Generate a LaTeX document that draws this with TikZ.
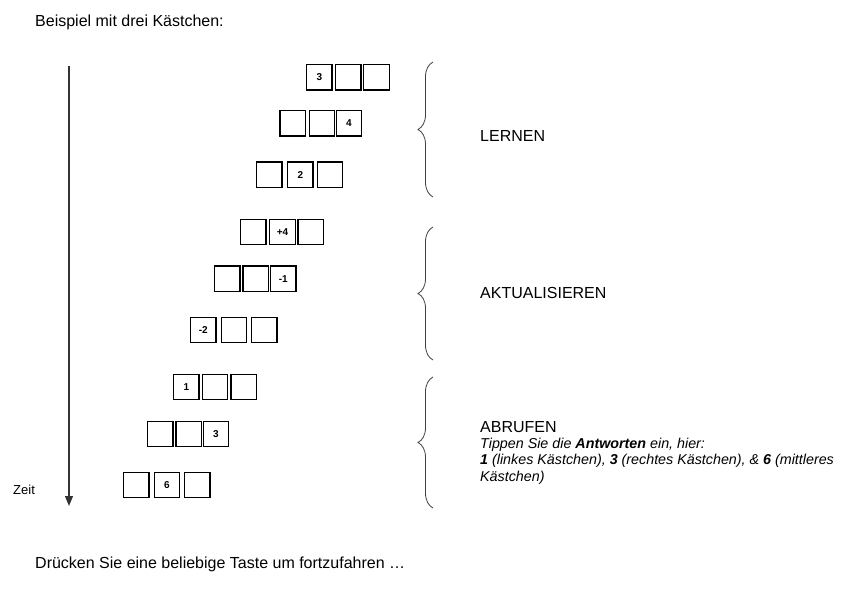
\documentclass[tikz,border=0pt]{standalone}
\usepackage{fontspec}
\setmainfont{Liberation Sans}
\usepackage{tikz}
\usetikzlibrary{decorations.pathreplacing}
\usetikzlibrary{arrows.meta,arrows}
\usetikzlibrary{fit,positioning}
\tikzset{>=latex}
\tikzset{kasten/.style={draw,line width=1.2pt,minimum size=25.5pt,inner sep=0pt,font=\fontsize{10}{12}\selectfont\bfseries}}
\tikzset{klammer/.style={decorate,decoration={brace,amplitude=15pt},line width=0.8pt,black!75}}
\newcommand{\phasefont}{\fontsize{16}{19}\selectfont}

\begin{document}
\begin{tikzpicture}[x=1pt,y=-1pt]

\fill[white] (0,0) rectangle (849,593);
\useasboundingbox (0,0) rectangle (849,593);

% Titel
\node[anchor=base west,inner sep=0pt,font=\phasefont] (titel) at (35,27) {Beispiel mit drei Kästchen:};

% Zeitachse
\coordinate (zeitoben) at (69,66);
\coordinate (zeitunten) at (69,506);
\draw[line width=1.2pt,black!80,-{Triangle[length=10pt,width=8pt]}] (zeitoben) -- (zeitunten);
\node[anchor=base west,inner sep=0pt,font=\fontsize{13}{15}\selectfont] (zeit) at (13,494) {Zeit};

% Lernen
\node[kasten] (r1a) at (319.3,77.3) {3};   \node[kasten] (r1b) at (348.3,77.3) {};  \node[kasten] (r1c) at (376.5,77.3) {};
\node[kasten] (r2a) at (292.7,123.3) {};   \node[kasten] (r2b) at (322,123.3) {};   \node[kasten] (r2c) at (349,123.3) {4};
\node[kasten] (r3a) at (269.3,174.7) {};   \node[kasten] (r3b) at (300.3,174.7) {2}; \node[kasten] (r3c) at (330,174.7) {};

% Aktualisieren
\node[kasten] (r4a) at (253.3,232) {};     \node[kasten] (r4b) at (282.5,232) {+4}; \node[kasten] (r4c) at (310.7,232) {};
\node[kasten] (r5a) at (227.3,278.7) {};   \node[kasten] (r5b) at (255.8,278.7) {}; \node[kasten] (r5c) at (283.3,278.7) {-1};
\node[kasten] (r6a) at (203.3,330) {-2};   \node[kasten] (r6b) at (234,330) {};     \node[kasten] (r6c) at (264.3,330) {};

% Abrufen
\node[kasten] (r7a) at (186.3,387) {1};    \node[kasten] (r7b) at (215,387) {};     \node[kasten] (r7c) at (243.7,387) {};
\node[kasten] (r8a) at (160.3,434) {};     \node[kasten] (r8b) at (188.8,434) {};   \node[kasten] (r8c) at (216,434) {3};
\node[kasten] (r9a) at (136.3,485) {};     \node[kasten] (r9b) at (167,485) {6};    \node[kasten] (r9c) at (197.3,485) {};

% Klammern
\draw[klammer] (433,197) -- (433,62);
\draw[klammer] (433,360) -- (433,227);
\draw[klammer] (433,508) -- (433,377);

% Phasen
\node[anchor=base west,inner sep=0pt,font=\phasefont] (lernen) at (480,142) {LERNEN};
\node[anchor=base west,inner sep=0pt,font=\phasefont] (aktualisieren) at (480,299) {AKTUALISIEREN};
\node[anchor=base west,inner sep=0pt,font=\phasefont] (abrufen) at (480,433) {ABRUFEN};
\node[anchor=north west,inner sep=0pt,align=left,font=\fontsize{14.3}{16.5}\selectfont\itshape] (hinweis) at (480,437.5)
  {Tippen Sie die \textbf{Antworten} ein, hier:\\
   \textbf{1} (linkes Kästchen), \textbf{3} (rechtes Kästchen), \& \textbf{6} (mittleres\\
   Kästchen)};

% Fortfahren
\node[anchor=base west,inner sep=0pt,font=\phasefont] (weiter) at (35,568) {Drücken Sie eine beliebige Taste um fortzufahren …};

\end{tikzpicture}
\end{document}
